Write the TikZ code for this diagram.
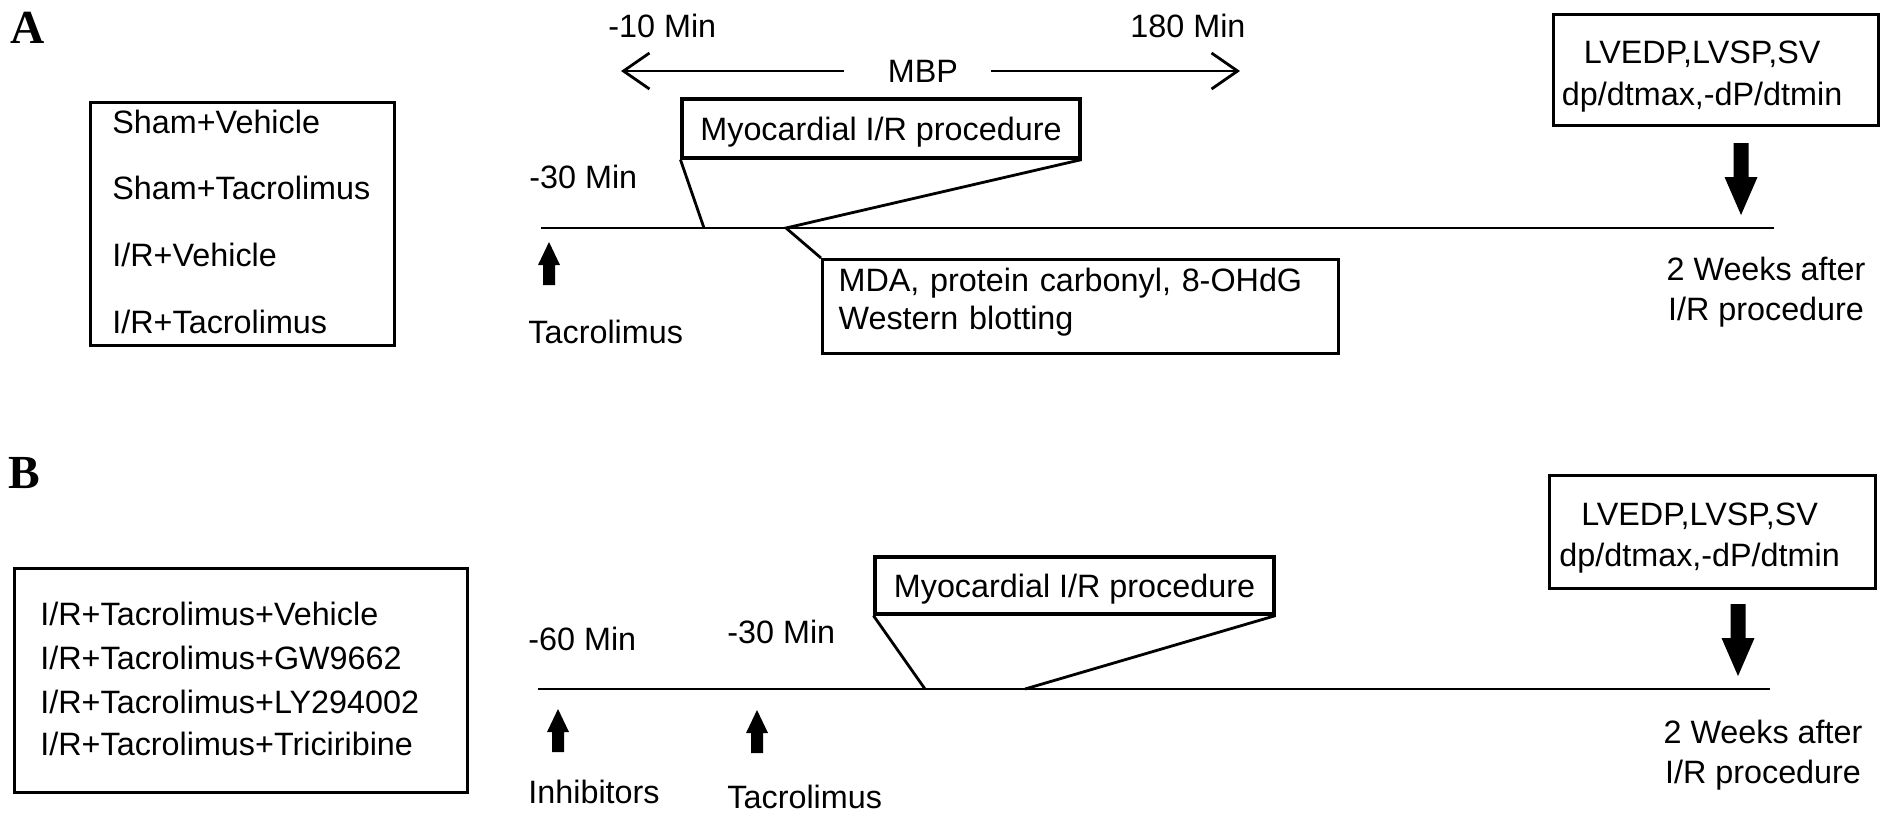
\documentclass[tikz,border=0pt]{standalone}
\usepackage{fontspec}
\setmainfont{Liberation Sans}
\newfontfamily\panelfont{Liberation Serif}
\usetikzlibrary{arrows.meta}
\tikzset{
  uparr/.pic={\fill (-6,0) -- (6,0) -- (6,-20) -- (11,-20) -- (0,-43) -- (-11,-20) -- (-6,-20) -- cycle;},
  dnarr/.pic={\fill (-7.5,0) -- (7.5,0) -- (7.5,34) -- (16.5,34) -- (0,72) -- (-16.5,34) -- (-7.5,34) -- cycle;}
}
\begin{document}
\begin{tikzpicture}[x=0.1mm,y=-0.1mm,line width=0.8pt,
  every node/.style={font=\fontsize{9.2pt}{11.4pt}\selectfont, inner sep=0pt},
  frame/.style={draw, line width=0.9pt},
  panel/.style={font=\fontsize{13.5pt}{16pt}\selectfont\panelfont\bfseries, anchor=base west},
  lbl/.style={anchor=base west},
  mbparrow/.style={-{Straight Barb[length=2.6mm,width=3.6mm]}},
  meas/.style={frame, anchor=north west, align=center, font=\fontsize{9.2pt}{11.7pt}\selectfont},
  wk/.style={align=center, font=\fontsize{9.2pt}{11.4pt}\selectfont},
  myo/.style={frame, text depth=0pt}
]
\useasboundingbox (0,0) rectangle (1890,821);

% ---------------- Panel A ----------------
\node[panel] (labA) at (9,43) {A};
\node[frame, anchor=north west, minimum width=30.4mm, minimum height=24.3mm] (grpA) at (89,101) {};
\node[lbl] (gA1) at (111,133) {Sham+Vehicle};
\node[lbl] (gA2) at (111,199) {Sham+Tacrolimus};
\node[lbl] (gA3) at (111,266) {I/R+Vehicle};
\node[lbl] (gA4) at (111,333) {I/R+Tacrolimus};

\node[lbl] (t10) at (607,37) {-10 Min};
\node[lbl] (t180) at (1129,37) {180 Min};
\node (mbp) at (923,71) {MBP};
\coordinate (mbpL) at (621,71);
\coordinate (mbpR) at (1240,71);
\draw[mbparrow] ([xshift=-4.3mm]mbp.west) -- (mbpL);
\draw[mbparrow] ([xshift=3.2mm]mbp.east) -- (mbpR);

\node[myo, minimum width=39.8mm, minimum height=5.9mm] (myoA) at (881,128.5) {Myocardial I/R procedure};
\node[lbl] (m30A) at (528,188) {-30 Min};

\coordinate (tlA0) at (541,228);
\coordinate (tlA1) at (1774,228);
\draw (tlA0) -- (tlA1);
\coordinate (pA1) at (704,228);
\coordinate (pA2) at (786,228);

\node[frame, anchor=north west, text width=48.4mm, minimum height=9.4mm, inner xsep=1.6mm, align=left,
      font=\fontsize{9.2pt}{10.8pt}\selectfont] (mdaA) at (821,258)
      {MDA, protein carbonyl, 8-OHdG\\Western blotting\rule[-1.48mm]{0pt}{0pt}};

\draw (myoA.south west) -- (pA1);
\draw (myoA.south east) -- (pA2) -- (mdaA.north west);

\pic at (549,285) {uparr};
\node[lbl] (tacA) at (527,343) {Tacrolimus};

\node[meas, minimum width=32.5mm, minimum height=11.1mm] (lvA) at (1552,13)
  {\rule{0pt}{3.55mm}LVEDP,LVSP,SV\kern2.8mm\\dp/dtmax,-dP/dtmin\kern2.8mm};
\pic at (1741,143) {dnarr};
\node[wk] (wkA) at (1766,292) {2 Weeks after\\I/R procedure};

% ---------------- Panel B ----------------
\node[panel] (labB) at (7,488) {B};
\node[frame, anchor=north west, minimum width=45.3mm, minimum height=22.4mm] (grpB) at (13,567) {};
\node[lbl] (gB1) at (39,625) {I/R+Tacrolimus+Vehicle};
\node[lbl] (gB2) at (39,669) {I/R+Tacrolimus+GW9662};
\node[lbl] (gB3) at (39,713) {I/R+Tacrolimus+LY294002};
\node[lbl] (gB4) at (39,755) {I/R+Tacrolimus+Triciribine};

\node[lbl] (m60B) at (527,650) {-60 Min};
\node[lbl] (m30B) at (726,643) {-30 Min};

\node[myo, minimum width=39.9mm, minimum height=5.7mm] (myoB) at (1074.5,585.5) {Myocardial I/R procedure};

\coordinate (tlB0) at (538,689);
\coordinate (tlB1) at (1770,689);
\draw (tlB0) -- (tlB1);
\coordinate (pB1) at (925,689);
\coordinate (pB2) at (1025,689);
\draw (myoB.south west) -- (pB1);
\draw (myoB.south east) -- (pB2);

\pic at (558,752) {uparr};
\pic at (757,753) {uparr};
\node[lbl] (inhB) at (527,803) {Inhibitors};
\node[lbl] (tacB) at (726,808) {Tacrolimus};

\node[meas, minimum width=32.6mm, minimum height=11.3mm] (lvB) at (1548,474)
  {\rule{0pt}{3.45mm}LVEDP,LVSP,SV\kern2.6mm\\dp/dtmax,-dP/dtmin\kern2.6mm};
\pic at (1738,604) {dnarr};
\node[wk] (wkB) at (1763,755) {2 Weeks after\\I/R procedure};
\end{tikzpicture}
\end{document}
